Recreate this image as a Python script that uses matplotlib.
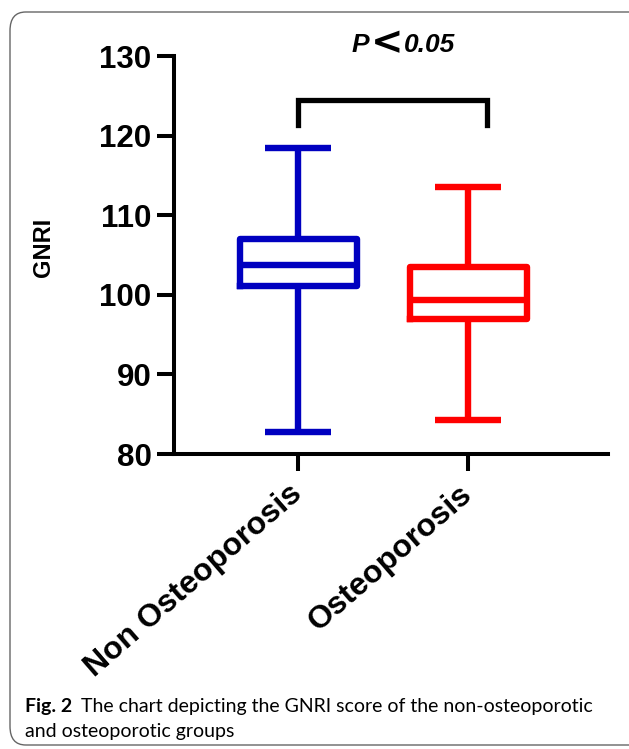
import matplotlib
matplotlib.use("Agg")
import matplotlib.pyplot as plt
import matplotlib.transforms as mtransforms
from matplotlib.patches import FancyBboxPatch

# ---- data ----
categories = ["Non Osteoporosis", "Osteoporosis"]
whisker_low = [82.8, 84.3]
q1 = [101.1, 97.0]
median = [103.8, 99.4]
q3 = [107.0, 103.5]
whisker_high = [118.5, 113.6]
colors = ["#0000C0", "#FF0000"]
y_ticks = [80, 90, 100, 110, 120, 130]
bracket_x = [0, 1.11]
bracket_y = [121.3, 124.5]
p_parts = ["P", "<", "0.05"]
caption_bold = "Fig. 2"
caption_rest = "The chart depicting the GNRI score of the non-osteoporotic"
caption_line2 = "and osteoporotic groups"

W, H = 629, 749
fig = plt.figure(figsize=(W / 100, H / 100), dpi=100)
fig.patch.set_facecolor("white")

# rounded border
border = FancyBboxPatch((10 / W, 1 - 745 / H), 640 / W, 733 / H,
                        boxstyle="round,pad=0,rounding_size=0.025",
                        transform=fig.transFigure, fill=False,
                        edgecolor="#666666", linewidth=1.0, clip_on=False)
fig.patches.append(border)

ax = fig.add_axes([173.6 / W, 1 - 454 / H, (608 - 173.6) / W, (454 - 56) / H])

stats = []
for i, c in enumerate(categories):
    stats.append(dict(label=c, whislo=whisker_low[i], q1=q1[i], med=median[i],
                      q3=q3[i], whishi=whisker_high[i], fliers=[]))

for i, st in enumerate(stats):
    col = colors[i]
    lw = 4.6
    ax.bxp([st], positions=[i], widths=0.69, capwidths=0.39, showfliers=False,
           boxprops=dict(color=col, linewidth=lw),
           whiskerprops=dict(color=col, linewidth=lw, solid_capstyle="butt"),
           capprops=dict(color=col, linewidth=lw, solid_capstyle="butt"),
           medianprops=dict(color=col, linewidth=lw, solid_capstyle="butt"),
           manage_ticks=False)

# significance bracket
ax.plot([bracket_x[0], bracket_x[0], bracket_x[1], bracket_x[1]],
        [bracket_y[0], bracket_y[1], bracket_y[1], bracket_y[0]],
        color="black", linewidth=3.8, solid_joinstyle="miter", clip_on=False)

ax.set_xlim(-0.735, 1.824)
ax.set_ylim(80, 130)
ax.set_yticks(y_ticks)
ax.set_xticks(range(len(categories)))
ax.set_xticklabels(categories, rotation=41, ha="right", va="center",
                   rotation_mode="anchor", fontsize=23, fontweight="bold",
                   family="Liberation Sans")
for lab in ax.get_yticklabels():
    lab.set_fontsize(22.5)
    lab.set_fontweight("bold")
    lab.set_family("Liberation Sans")

for s in ["top", "right"]:
    ax.spines[s].set_visible(False)
for s in ["left", "bottom"]:
    ax.spines[s].set_linewidth(2.9)
ax.tick_params(axis="both", direction="out", length=12, width=2.9, pad=4)
ax.tick_params(axis="x", pad=14)

ax.set_ylabel("GNRI", fontsize=17, fontweight="bold", family="Liberation Sans")
ax.yaxis.set_label_coords(-0.272, 0.52)

# p-value text (P, heavy chevron, value)
tp = fig.text(352 / W, 1 - 52 / H, p_parts[0], ha="left", va="baseline",
              fontsize=19, fontweight="bold", fontstyle="italic",
              family="Liberation Sans")
fig.canvas.draw()
r = fig.canvas.get_renderer()
bb = tp.get_window_extent(r)
tl = fig.text(0, 0, p_parts[1], ha="left", va="baseline", fontsize=28,
              fontweight="heavy", family="DejaVu Sans",
              transform=mtransforms.offset_copy(fig.transFigure, fig=fig,
                                                x=bb.x1 + 1, y=H - 54,
                                                units="dots"))
fig.canvas.draw()
bb2 = tl.get_window_extent(r)
fig.text((bb2.x1 + 1) / W, 1 - 52 / H, p_parts[2], ha="left", va="baseline",
         fontsize=19, fontweight="bold", fontstyle="italic",
         family="Liberation Sans")

# caption
t1 = fig.text(25 / W, 1 - 712 / H, caption_bold, ha="left", va="baseline",
              fontsize=14, fontweight="bold", family="Lato")
fig.canvas.draw()
bbc = t1.get_window_extent(r)
fig.text((bbc.x1 + 9) / W, 1 - 712 / H, caption_rest, ha="left", va="baseline",
         fontsize=14, family="Lato")
fig.text(25 / W, 1 - 737 / H, caption_line2, ha="left", va="baseline",
         fontsize=14, family="Lato")

fig.savefig("out.png", dpi=100)
